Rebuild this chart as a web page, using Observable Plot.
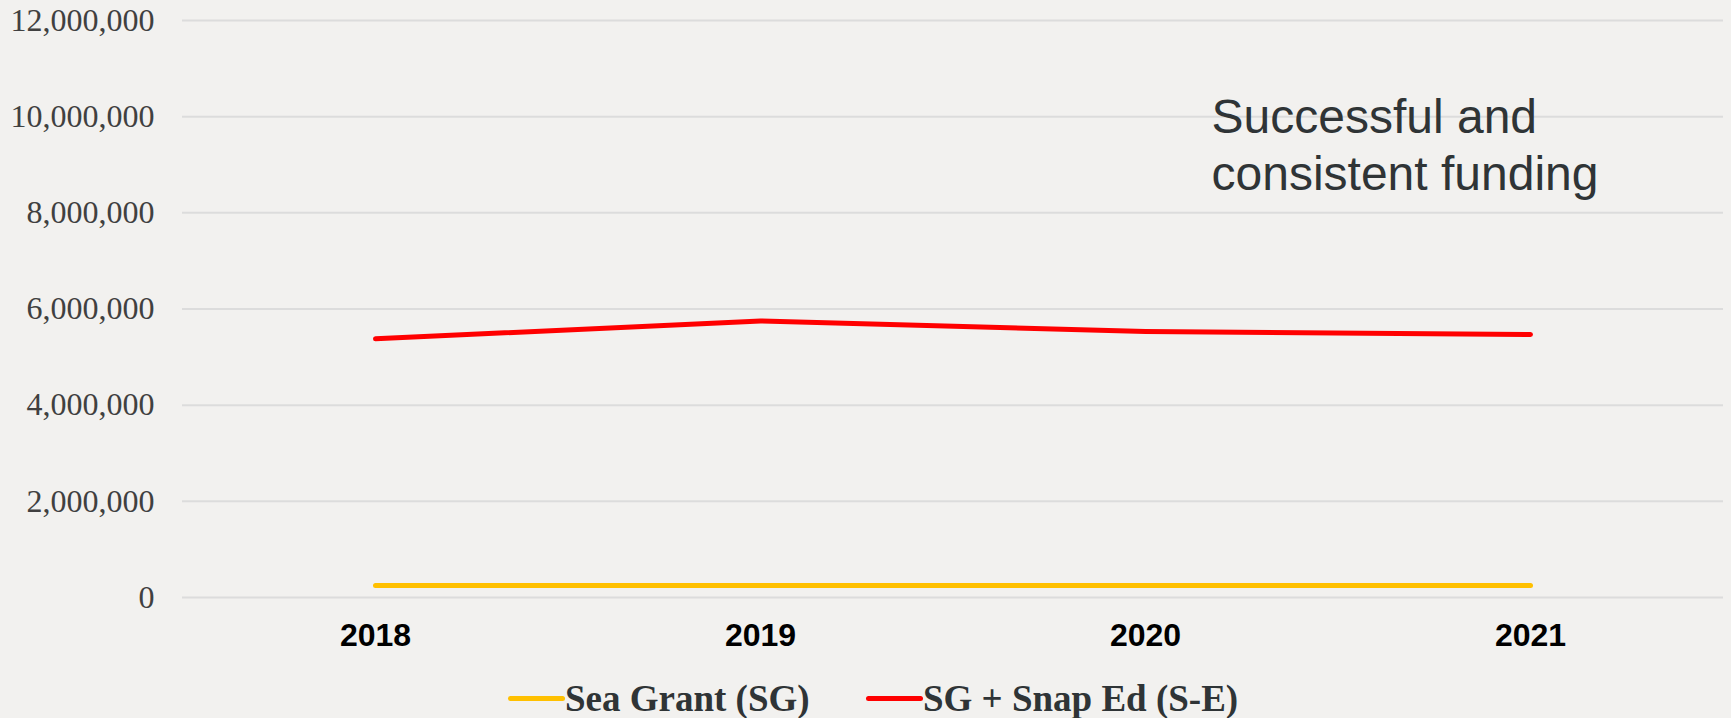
<!DOCTYPE html>
<html>
<head>
<meta charset="utf-8">
<script src="https://cdn.jsdelivr.net/npm/d3@7"></script>
<script src="https://cdn.jsdelivr.net/npm/@observablehq/plot@0.6"></script>
<style>
  html, body { margin: 0; padding: 0; background: #f2f1ef; }
  #chart svg { display: block; background: #f2f1ef; }
  #legend { position: relative; height: 58px; }
  .item { position: absolute; top: 0; display: flex; align-items: center; height: 58px; padding-top: 18px; box-sizing: border-box;
          font-family: "Liberation Serif", "Times New Roman", serif; font-weight: bold; font-size: 37px; color: #2f3436; }
  .sw { width: 57px; height: 5px; border-radius: 3px; display: inline-block; }
</style>
</head>
<body>
<div id="chart"></div>
<div id="legend"></div>
<script>
const years = ["2018", "2019", "2020", "2021"];
const seaGrant = [250000, 250000, 250000, 250000];
const sgSnapEd = [5380000, 5750000, 5530000, 5470000];
const seriesNames = ["Sea Grant (SG)", "SG + Snap Ed (S-E)"];
const seriesColors = ["#FFC000", "#FF0000"];
const yTicks = [0, 2000000, 4000000, 6000000, 8000000, 10000000, 12000000];
const note = "Successful and\nconsistent funding";

const rows = [];
years.forEach((yr, i) => {
  rows.push({year: yr, value: seaGrant[i], series: seriesNames[0]});
  rows.push({year: yr, value: sgSnapEd[i], series: seriesNames[1]});
});

const chart = Plot.plot({
  width: 1731,
  height: 660,
  marginTop: 20,
  marginBottom: 63,
  marginLeft: 182,
  marginRight: 8,
  style: {background: "#f2f1ef", overflow: "visible"},
  x: {type: "point", domain: years, padding: 0.5},
  y: {domain: [0, 12000000]},
  color: {domain: seriesNames, range: seriesColors},
  marks: [
    Plot.gridY(yTicks, {stroke: "#dcdcdc", strokeOpacity: 1, strokeWidth: 2}),
    Plot.axisY(yTicks, {
      tickSize: 0, tickPadding: 28, tickFormat: d3.format(","), label: null,
      fontSize: 32, fontFamily: "Liberation Serif, Times New Roman, serif", fill: "#404040"
    }),
    Plot.axisX({
      tickSize: 0, tickPadding: 26, label: null,
      fontSize: 32, fontWeight: "bold", fontFamily: "Liberation Sans, Arial, sans-serif", fill: "#000"
    }),
    Plot.line(rows, {x: "year", y: "value", z: "series", stroke: "series", strokeWidth: 5, strokeLinecap: "round", strokeLinejoin: "round"}),
    Plot.text([note], {
      frameAnchor: "top-left", dx: 1029, dy: 72, text: d => d, textAnchor: "start", lineAnchor: "top",
      lineHeight: 1.19, fontSize: 48, fontFamily: "Liberation Sans, Arial, sans-serif", fill: "#2f3436"
    })
  ]
});
document.getElementById("chart").appendChild(chart);

const legend = d3.select("#legend");
const lefts = [508, 866];
seriesNames.forEach((name, i) => {
  const it = legend.append("div").attr("class", "item").style("left", lefts[i] + "px");
  it.append("span").attr("class", "sw").style("background", seriesColors[i]);
  it.append("span").text(name);
});
</script>
</body>
</html>
